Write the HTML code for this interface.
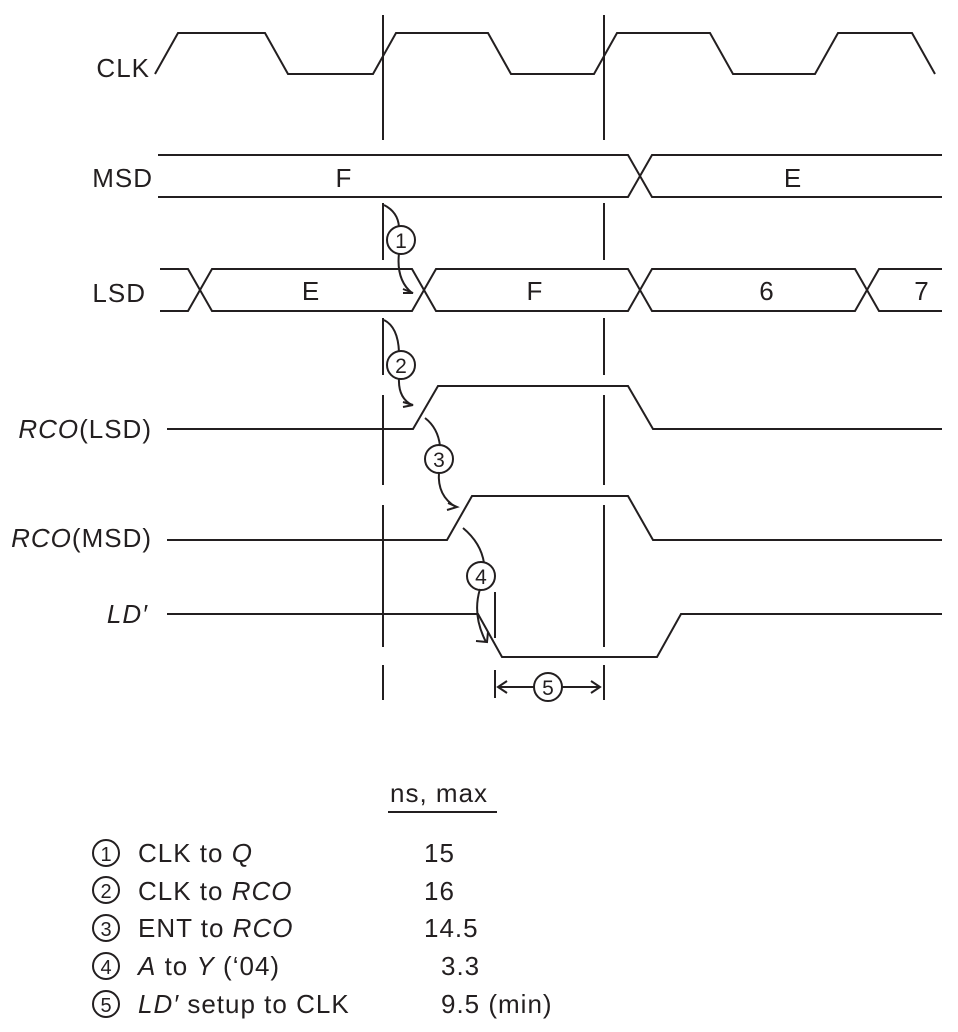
<!DOCTYPE html>
<html><head><meta charset="utf-8"><style>
html,body{margin:0;padding:0;background:#fff;width:958px;height:1032px;overflow:hidden}
text{font-family:"Liberation Sans",sans-serif;font-size:26px;letter-spacing:1px;fill:#231f20}
.i{font-style:italic}
</style></head><body>
<svg width="958" height="1032" viewBox="0 0 958 1032" xmlns="http://www.w3.org/2000/svg">
<g fill="none" stroke="#231f20" stroke-width="2">
<polyline points="155,74 178,33 265,33 288,74 373,74 396,33 488,33 511,74 594,74 617,33 710,33 733,74 815,74 838,33 912,33 935,74"/>
<polyline points="158,155 628,155 652,197 942,197"/>
<polyline points="158,197 628,197 652,155 942,155"/>
<polyline points="160,269 188,269 212,311 412,311 436,269 628,269 652,311 855,311 879,269 942,269"/>
<polyline points="160,311 188,311 212,269 412,269 436,311 628,311 652,269 855,269 879,311 942,311"/>
<polyline points="167,429 413,429 438,386 628,386 653,429 942,429"/>
<polyline points="167,540 447,540 472,496 628,496 653,540 942,540"/>
<polyline points="167,614 478,614 502,657 657,657 681,614 942,614"/>
<path d="M383,15V140M383,203V260M383,318V375M383,395V485M383,505V647M383,665V700"/>
<path d="M604,15V140M604,203V260M604,318V375M604,395V485M604,505V647M604,665V700"/>
<path d="M495,592V638M495,670V698"/>
<path d="M384,205 Q398,212 399,227"/>
<path d="M399,253 Q396,280 412,293"/>
<path d="M403,289 L413,293 L403,293"/>
<path d="M384,320 Q398,327 399,352"/>
<path d="M399,378 Q398,398 412,405"/>
<path d="M403,402 L413,405 L403,407"/>
<path d="M425,418 Q438,428 440,446"/>
<path d="M439,472 Q437,496 456,507"/>
<path d="M448,503 L457,507 L447,510"/>
<path d="M463,528 Q481,543 484,563"/>
<path d="M480,589 Q472,615 486,642"/>
<path d="M476,641 L487,642 L488,632"/>
<circle cx="401" cy="240" r="14"/>
<circle cx="401" cy="365" r="14"/>
<circle cx="439" cy="459" r="14"/>
<circle cx="481" cy="576" r="14"/>
<circle cx="548" cy="687" r="14"/>
<path d="M498,687H534M562,687H600"/>
<path d="M507,681L498,687L507,693M591,681L600,687L591,693"/>
<path d="M388,812H497"/>
<circle cx="106" cy="853" r="13"/>
<circle cx="106" cy="890" r="13"/>
<circle cx="106" cy="928" r="13"/>
<circle cx="106" cy="966" r="13"/>
<circle cx="106" cy="1004" r="13"/>
</g>
<g text-anchor="middle">
<text x="401" y="248" style="font-size:21px;letter-spacing:0">1</text>
<text x="401" y="373" style="font-size:21px;letter-spacing:0">2</text>
<text x="439" y="467" style="font-size:21px;letter-spacing:0">3</text>
<text x="481" y="584" style="font-size:21px;letter-spacing:0">4</text>
<text x="548" y="695" style="font-size:21px;letter-spacing:0">5</text>
<text x="106" y="861" style="font-size:20px;letter-spacing:0">1</text>
<text x="106" y="898" style="font-size:20px;letter-spacing:0">2</text>
<text x="106" y="936" style="font-size:20px;letter-spacing:0">3</text>
<text x="106" y="974" style="font-size:20px;letter-spacing:0">4</text>
<text x="106" y="1012" style="font-size:20px;letter-spacing:0">5</text>
</g>
<g text-anchor="end">
<text x="150" y="77">CLK</text>
<text x="153" y="187">MSD</text>
<text x="146" y="302">LSD</text>
<text x="152" y="438"><tspan class="i">RCO</tspan>(LSD)</text>
<text x="152" y="547"><tspan class="i">RCO</tspan>(MSD)</text>
<text x="148" y="623" class="i">LD′</text>
</g>
<g text-anchor="middle">
<text x="344" y="187">F</text>
<text x="793" y="187">E</text>
<text x="311" y="300">E</text>
<text x="535" y="300">F</text>
<text x="767" y="300">6</text>
<text x="922" y="300">7</text>
</g>
<text x="390" y="802">ns, max</text>
<text x="138" y="862">CLK to <tspan class="i">Q</tspan></text>
<text x="138" y="900">CLK to <tspan class="i">RCO</tspan></text>
<text x="138" y="937">ENT to <tspan class="i">RCO</tspan></text>
<text x="138" y="975"><tspan class="i">A</tspan> to <tspan class="i">Y</tspan> (‘04)</text>
<text x="138" y="1013"><tspan class="i">LD′</tspan> setup to CLK</text>
<text x="424" y="862">15</text>
<text x="424" y="900">16</text>
<text x="424" y="937">14.5</text>
<text x="441" y="975">3.3</text>
<text x="441" y="1013">9.5 (min)</text>
</svg>
</body></html>
